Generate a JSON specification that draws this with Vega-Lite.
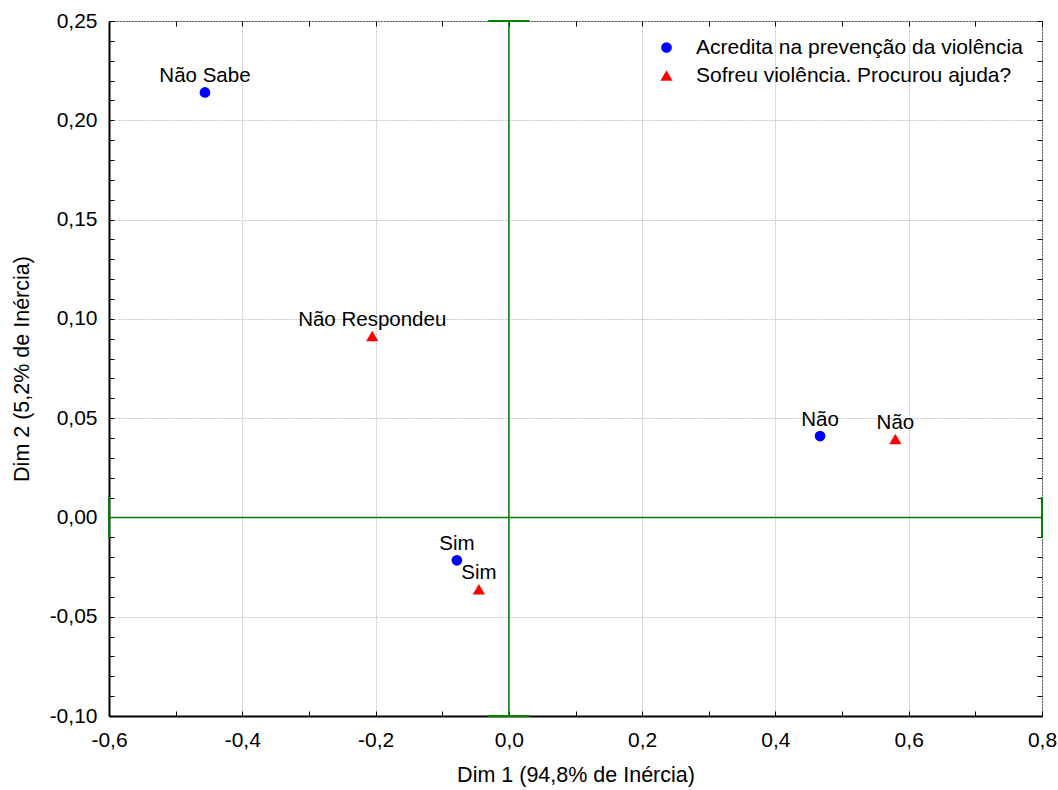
{
  "$schema": "https://vega.github.io/schema/vega-lite/v6.json",
  "autosize": "none",
  "width": 933,
  "height": 695,
  "padding": {"left": 109, "top": 21, "right": 16, "bottom": 74},
  "background": "white",
  "config": {
    "font": "Liberation Sans",
    "view": {"stroke": "black", "strokeWidth": 1},
    "axis": {"labelFont": "Liberation Sans", "titleFont": "Liberation Sans", "labelFontSize": 21, "titleFontSize": 21.5, "labelColor": "black", "titleColor": "black", "titleFontWeight": "normal", "domainColor": "black", "tickColor": "black"},
    "legend": {"labelFont": "Liberation Sans", "labelFontSize": 21, "labelColor": "black", "labelLimit": 0}
  },
  "datasets": {
    "pts": [
      {"series": "Acredita na prevenção da violência", "label": "Não Sabe", "x": -0.456, "y": 0.214},
      {"series": "Acredita na prevenção da violência", "label": "Não", "x": 0.467, "y": 0.041},
      {"series": "Acredita na prevenção da violência", "label": "Sim", "x": -0.078, "y": -0.0216},
      {"series": "Sofreu violência. Procurou ajuda?", "label": "Não Respondeu", "x": -0.205, "y": 0.0914},
      {"series": "Sofreu violência. Procurou ajuda?", "label": "Não", "x": 0.58, "y": 0.0395},
      {"series": "Sofreu violência. Procurou ajuda?", "label": "Sim", "x": -0.045, "y": -0.0362}
    ],
    "lines": [
      {"x": -0.6, "x2": 0.8, "y": 0, "y2": 0, "w": 1.5},
      {"x": 0, "x2": 0, "y": -0.1, "y2": 0.25, "w": 1.5},
      {"x": -0.6, "x2": -0.6, "y": -0.0103, "y2": 0.0103, "w": 2},
      {"x": 0.8, "x2": 0.8, "y": -0.0103, "y2": 0.0103, "w": 2},
      {"x": -0.031, "x2": 0.031, "y": 0.25, "y2": 0.25, "w": 2},
      {"x": -0.031, "x2": 0.031, "y": -0.1, "y2": -0.1, "w": 2}
    ]
  },
  "layer": [
    {
      "encoding": {
        "x": {
          "field": "x", "type": "quantitative",
          "scale": {"domain": [-0.6, 0.8], "nice": false, "zero": false},
          "axis": {
            "title": "Dim 1 (94,8% de Inércia)",
            "values": [-0.6, -0.5, -0.4, -0.3, -0.2, -0.1, 0, 0.1, 0.2, 0.3, 0.4, 0.5, 0.6, 0.7, 0.8],
            "labelExpr": "abs(datum.value*5 - round(datum.value*5)) < 0.001 ? replace(replace(format(datum.value, '.1f'), '.', ','), '−', '-') : ''",
            "tickSize": -5,
            "domainWidth": 2,
            "labelPadding": 18,
            "titlePadding": 14,
            "labelFlush": false,
            "labelOverlap": false,
            "grid": true,
            "gridDash": [2, 1],
            "gridColor": "#c8c8c8",
            "gridOpacity": {"condition": {"test": "abs(datum.value*5 - round(datum.value*5)) < 0.001", "value": 1}, "value": 0}
          }
        },
        "y": {
          "field": "y", "type": "quantitative",
          "scale": {"domain": [-0.1, 0.25], "nice": false, "zero": false},
          "axis": {
            "title": "Dim 2 (5,2% de Inércia)",
            "values": [-0.1, -0.09, -0.08, -0.07, -0.06, -0.05, -0.04, -0.03, -0.02, -0.01, 0, 0.01, 0.02, 0.03, 0.04, 0.05, 0.06, 0.07, 0.08, 0.09, 0.1, 0.11, 0.12, 0.13, 0.14, 0.15, 0.16, 0.17, 0.18, 0.19, 0.2, 0.21, 0.22, 0.23, 0.24, 0.25],
            "labelExpr": "abs(datum.value*20 - round(datum.value*20)) < 0.001 ? replace(replace(format(datum.value, '.2f'), '.', ','), '−', '-') : ''",
            "tickSize": -5,
            "domainWidth": 2,
            "labelPadding": 17,
            "titlePadding": 16,
            "labelFlush": false,
            "labelOverlap": false,
            "grid": true,
            "gridDash": [2, 1],
            "gridColor": "#c8c8c8",
            "gridOpacity": {"condition": {"test": "abs(datum.value*20 - round(datum.value*20)) < 0.001", "value": 1}, "value": 0}
          }
        }
      },
      "layer": [
        {
          "data": {"name": "lines"},
          "mark": {"type": "rule", "color": "#008000"},
          "encoding": {
            "x2": {"field": "x2"},
            "y2": {"field": "y2"},
            "strokeWidth": {"field": "w", "type": "quantitative", "scale": null}
          }
        },
        {
          "data": {"name": "pts"},
          "mark": {"type": "point", "filled": true, "opacity": 1},
          "encoding": {
            "size": {"field": "series", "type": "nominal", "scale": {"domain": ["Acredita na prevenção da violência", "Sofreu violência. Procurou ajuda?"], "range": [115, 150]}, "legend": null},
            "color": {"field": "series", "type": "nominal", "scale": {"domain": ["Acredita na prevenção da violência", "Sofreu violência. Procurou ajuda?"], "range": ["#0000ff", "#ff0000"]},
              "legend": {"title": null, "orient": "none", "legendX": 547, "legendY": 16, "padding": 0, "symbolSize": 120, "labelOffset": 19, "rowPadding": 6, "symbolStrokeWidth": 0, "symbolOpacity": 1}},
            "shape": {"field": "series", "type": "nominal", "scale": {"domain": ["Acredita na prevenção da violência", "Sofreu violência. Procurou ajuda?"], "range": ["circle", "triangle-up"]},
              "legend": {"title": null, "orient": "none", "legendX": 547, "legendY": 16, "padding": 0, "symbolSize": 120, "labelOffset": 19, "rowPadding": 6, "symbolStrokeWidth": 0, "symbolOpacity": 1}}
          }
        },
        {
          "data": {"name": "pts"},
          "mark": {"type": "text", "fontSize": 20.5, "color": "black", "baseline": "alphabetic", "align": "center", "dy": -10},
          "encoding": {"text": {"field": "label"}}
        }
      ]
    },
    {
      "data": {"name": "pts"},
      "mark": {"type": "point", "opacity": 0},
      "encoding": {
        "x": {"field": "x", "type": "quantitative",
          "axis": {"orient": "top", "title": null, "labels": false, "grid": false, "tickSize": -5, "domain": false,
            "values": [-0.6, -0.5, -0.4, -0.3, -0.2, -0.1, 0, 0.1, 0.2, 0.3, 0.4, 0.5, 0.6, 0.7, 0.8]}},
        "y": {"field": "y", "type": "quantitative",
          "axis": {"orient": "right", "title": null, "labels": false, "grid": false, "tickSize": -5, "domain": false,
            "values": [-0.1, -0.09, -0.08, -0.07, -0.06, -0.05, -0.04, -0.03, -0.02, -0.01, 0, 0.01, 0.02, 0.03, 0.04, 0.05, 0.06, 0.07, 0.08, 0.09, 0.1, 0.11, 0.12, 0.13, 0.14, 0.15, 0.16, 0.17, 0.18, 0.19, 0.2, 0.21, 0.22, 0.23, 0.24, 0.25]}}
      }
    }
  ],
  "resolve": {"axis": {"x": "independent", "y": "independent"}}
}
